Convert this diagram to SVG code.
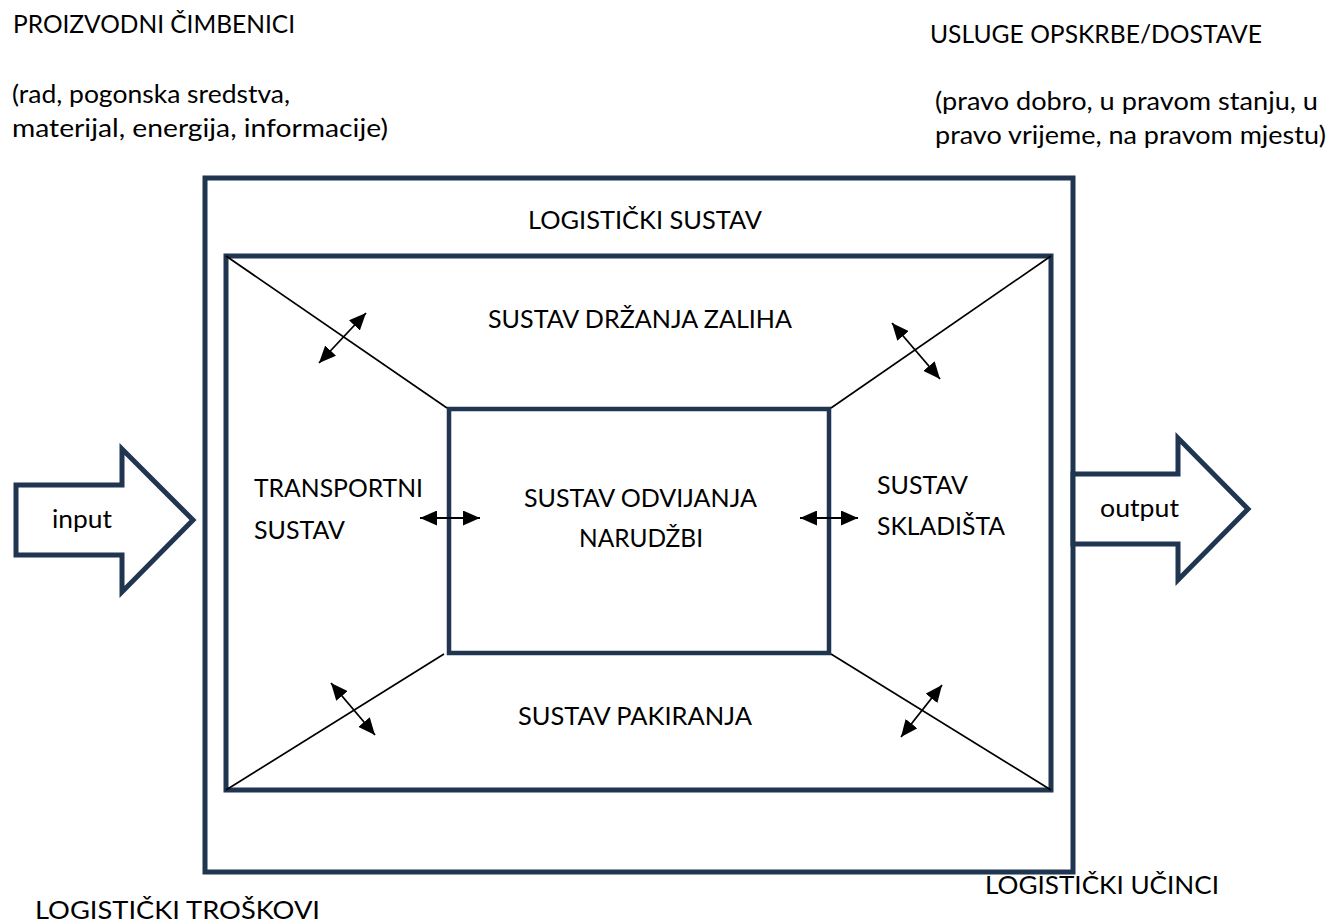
<svg xmlns="http://www.w3.org/2000/svg" width="1331" height="923" viewBox="0 0 1331 923">
<style>
  .box { fill: none; stroke: #1F3550; stroke-width: 5; }
  .arrowshape { fill: #ffffff; stroke: #1F3550; stroke-width: 5; stroke-linejoin: miter; }
  .diag { stroke: #000; stroke-width: 1.7; fill: none; }
  .dbl { stroke: #000; stroke-width: 1.8; fill: none; marker-start: url(#ah); marker-end: url(#ah); }
  text { font-family: "Lato", "Open Sans", sans-serif; font-size: 25px; fill: #000; }
</style>
<defs>
  <marker id="ah" viewBox="0 0 17 15" refX="17" refY="7.5" markerWidth="17" markerHeight="15" markerUnits="userSpaceOnUse" orient="auto-start-reverse">
    <path d="M0,0 L17,7.5 L0,15 z" fill="#000"/>
  </marker>
</defs>
<rect width="1331" height="923" fill="#ffffff"/>

<g id="labels-top">
  <text x="13" y="33" textLength="282" lengthAdjust="spacingAndGlyphs">PROIZVODNI ČIMBENICI</text>
  <text x="12" y="103" textLength="278" lengthAdjust="spacingAndGlyphs">(rad, pogonska sredstva,</text>
  <text x="12" y="137" textLength="376" lengthAdjust="spacingAndGlyphs">materijal, energija, informacije)</text>
  <text x="930" y="43" textLength="332" lengthAdjust="spacingAndGlyphs">USLUGE OPSKRBE/DOSTAVE</text>
  <text x="935" y="110" textLength="383" lengthAdjust="spacingAndGlyphs">(pravo dobro, u pravom stanju, u</text>
  <text x="935" y="144" textLength="391" lengthAdjust="spacingAndGlyphs">pravo vrijeme, na pravom mjestu)</text>
</g>

<g id="logisticki-sustav">
  <rect class="box" x="205" y="178" width="868" height="694"/>
  <text x="528" y="229" textLength="234" lengthAdjust="spacingAndGlyphs">LOGISTIČKI SUSTAV</text>
</g>

<g id="podsustavi">
  <rect class="box" x="226" y="256" width="825" height="534"/>
</g>

<g id="sustav-odvijanja-narudzbi">
  <rect class="box" x="449" y="409" width="380" height="244" style="stroke-width:4.5"/>
  <text x="524" y="507" textLength="233" lengthAdjust="spacingAndGlyphs">SUSTAV ODVIJANJA</text>
  <text x="579" y="547" textLength="124" lengthAdjust="spacingAndGlyphs">NARUDŽBI</text>
</g>

<g id="sustav-drzanja-zaliha">
  <text x="488" y="328" textLength="304" lengthAdjust="spacingAndGlyphs">SUSTAV DRŽANJA ZALIHA</text>
</g>

<g id="transportni-sustav">
  <text x="254" y="497" textLength="169" lengthAdjust="spacingAndGlyphs">TRANSPORTNI</text>
  <text x="254" y="539" textLength="91" lengthAdjust="spacingAndGlyphs">SUSTAV</text>
</g>

<g id="sustav-skladista">
  <text x="877" y="494" textLength="91" lengthAdjust="spacingAndGlyphs">SUSTAV</text>
  <text x="877" y="535" textLength="128" lengthAdjust="spacingAndGlyphs">SKLADIŠTA</text>
</g>

<g id="sustav-pakiranja">
  <text x="518" y="725" textLength="234" lengthAdjust="spacingAndGlyphs">SUSTAV PAKIRANJA</text>
</g>

<g id="input">
  <polygon class="arrowshape" points="16,485 122,485 122,449 193,520 122,592 122,555 16,555"/>
  <text x="52" y="528" textLength="60" lengthAdjust="spacingAndGlyphs">input</text>
</g>

<g id="output">
  <polygon class="arrowshape" points="1073,474 1178,474 1178,438 1248,509 1178,580 1178,544 1073,544"/>
  <text x="1100" y="517" textLength="79" lengthAdjust="spacingAndGlyphs">output</text>
</g>

<g id="labels-bottom">
  <text x="35" y="919" textLength="285" lengthAdjust="spacingAndGlyphs">LOGISTIČKI TROŠKOVI</text>
  <text x="985" y="894" textLength="234" lengthAdjust="spacingAndGlyphs">LOGISTIČKI UČINCI</text>
</g>

<g id="connectors">
  <line class="diag" x1="226" y1="256" x2="447" y2="408"/>
  <line class="diag" x1="1051" y1="256" x2="831" y2="408"/>
  <line class="diag" x1="226" y1="790" x2="444" y2="654"/>
  <line class="diag" x1="1051" y1="790" x2="831" y2="654"/>
  <line class="dbl" x1="319" y1="363" x2="366" y2="313"/>
  <line class="dbl" x1="892" y1="323" x2="940" y2="379"/>
  <line class="dbl" x1="331" y1="683" x2="375" y2="735"/>
  <line class="dbl" x1="901" y1="737" x2="942" y2="685"/>
  <line class="dbl" x1="420" y1="518" x2="480" y2="518"/>
  <line class="dbl" x1="800" y1="518" x2="858" y2="518"/>
</g>
</svg>
